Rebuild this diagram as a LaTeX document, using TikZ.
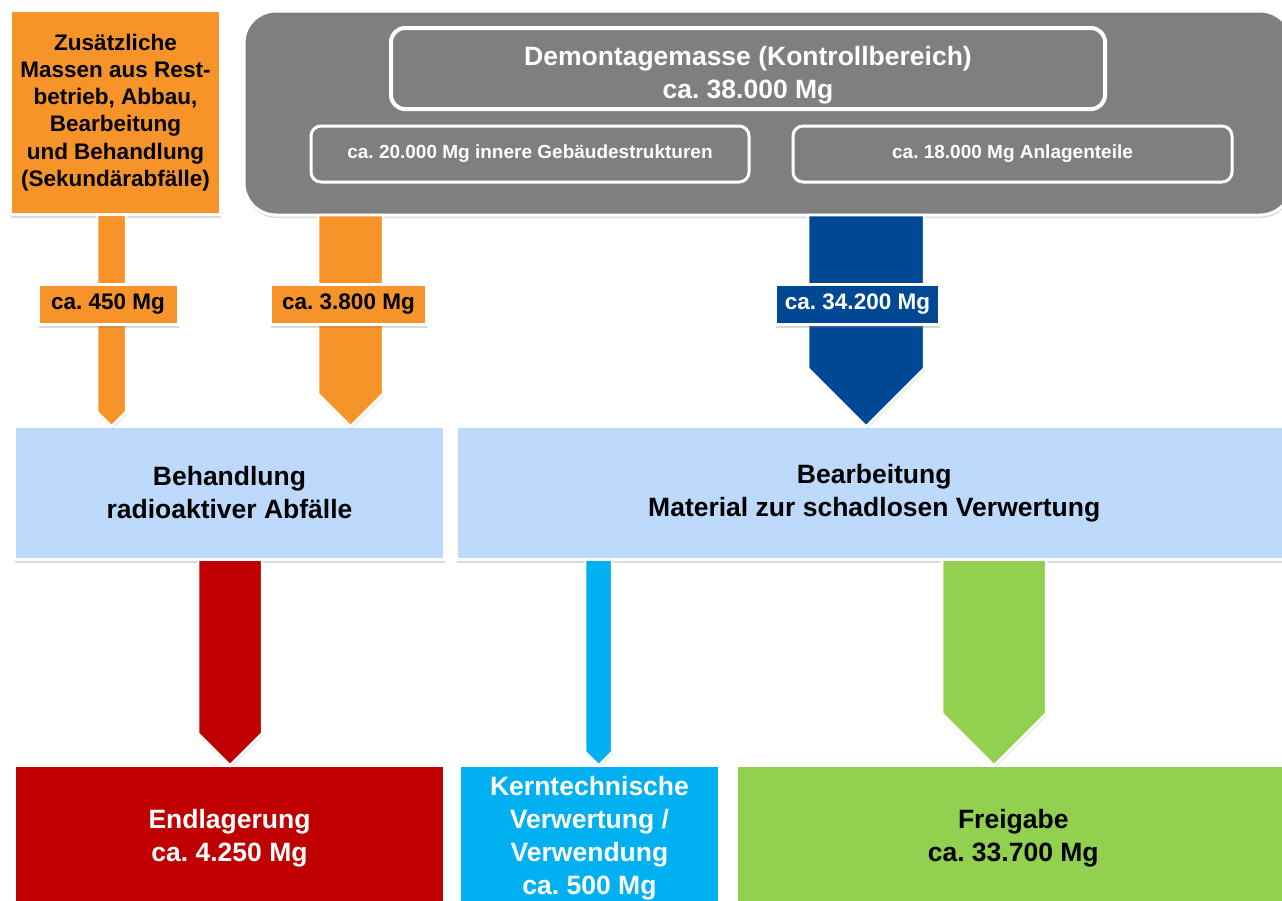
\documentclass[tikz,border=0pt]{standalone}
\usepackage{fontspec}
\setmainfont{Liberation Sans}
\usetikzlibrary{calc,shadows}
\frenchspacing
\definecolor{massorange}{RGB}{247,148,41}
\definecolor{massblue}{RGB}{0,72,148}
\definecolor{massgray}{RGB}{127,127,127}
\definecolor{proclight}{RGB}{189,217,251}
\definecolor{endred}{RGB}{192,0,0}
\definecolor{kerncyan}{RGB}{0,176,240}
\definecolor{freigreen}{RGB}{146,208,80}
\newcommand\flowarrow[5]{%
  \draw[flow, fill=#1] ({#2-#3},0 |- #4.south)
    -- ($({#2-#3},0 |- #5.north)+(0,-#3)$)
    -- (#2,0 |- #5.north)
    -- ($({#2+#3},0 |- #5.north)+(0,-#3)$)
    -- ({#2+#3},0 |- #4.south) -- cycle;}

\begin{document}
\begin{tikzpicture}
  [
    x=1pt, y=-1pt,
    block/.style =
      {draw=white, line width=3pt, rectangle, align=center, inner sep=0pt, outer sep=0pt,
       drop shadow={opacity=.3, shadow xshift=0.5pt, shadow yshift=-3pt}},
    big/.style =
      {font=\bfseries\fontsize{26.5}{33}\selectfont},
    small/.style =
      {font=\bfseries\fontsize{19}{23}\selectfont, text=white},
    tag/.style =
      {block, font=\bfseries\fontsize{22.5}{26}\selectfont, minimum height=40pt},
    flow/.style =
      {draw=white, line width=2.5pt, line join=miter,
       drop shadow={opacity=.25, shadow xshift=0.5pt, shadow yshift=-2.5pt}}
  ]
  \useasboundingbox (0,0) rectangle (1282,900);
  \clip (0,0) rectangle (1282,900);

  \node [block, fill=massorange, minimum width=210pt, minimum height=204pt,
         font=\bfseries\fontsize{22.5}{27.3}\selectfont] at (115.5,112.5) (zus)
        {Zusätzliche\\Massen aus Rest-\\betrieb, Abbau,\\Bearbeitung\\und Behandlung\\(Sekundärabfälle)};
  \node [block, fill=massgray, rounded corners=32pt, minimum width=1048pt, minimum height=204pt]
        at (768,113) (demo) {};
  \node [block, fill=massgray, rounded corners=14pt, line width=4pt, minimum width=714pt,
         minimum height=81pt, big, text=white] at (748,68.5) (title)
        {\rule{0pt}{32pt}Demontagemasse (Kontrollbereich)\\ca. 38.000 Mg};
  \node [block, fill=massgray, rounded corners=10pt, minimum width=438pt, minimum height=56pt, small]
        at (530,154) (innen) {ca. 20.000 Mg innere Gebäudestrukturen};
  \node [block, fill=massgray, rounded corners=10pt, minimum width=439pt, minimum height=56pt, small]
        at (1012.5,154) (anlage) {ca. 18.000 Mg Anlagenteile};

  \node [block, fill=proclight, minimum width=430pt, minimum height=133pt, big]
        at (229.5,493) (beh) {Behandlung\\radioaktiver Abfälle};
  \node [block, fill=proclight, minimum width=835.5pt, minimum height=133pt, big]
        at (874.25,493) (bea) {Bearbeitung\\Material zur schadlosen Verwertung};

  \node [block, fill=endred, minimum width=430pt, minimum height=144.5pt, big, text=white]
        at (229.5,837.75) (end) {Endlagerung\\ca. 4.250 Mg};
  \node [block, fill=kerncyan, minimum width=260pt, minimum height=144.5pt, big, text=white]
        at (589.5,837.75) (kern) {Kerntechnische\\Verwertung /\\Verwendung\\ca. 500 Mg};
  \node [block, fill=freigreen, minimum width=553.5pt, minimum height=144.5pt, big]
        at (1013.25,837.75) (frei) {Freigabe\\ca. 33.700 Mg};

  \flowarrow{massorange}{111.5}{14.5}{zus}{beh}
  \flowarrow{massorange}{350.5}{32.5}{demo}{beh}
  \flowarrow{massblue}{866}{58}{demo}{bea}
  \flowarrow{endred}{230}{32}{beh}{end}
  \flowarrow{kerncyan}{598.5}{13.5}{bea}{kern}
  \flowarrow{freigreen}{994}{52}{bea}{frei}

  \node [tag, fill=massorange, minimum width=140pt] at (108,304.5) (m450) {ca. 450 Mg};
  \node [tag, fill=massorange, minimum width=156pt] at (348.5,304.5) (m3800) {ca. 3.800 Mg};
  \node [tag, fill=massblue, minimum width=164pt, text=white] at (857.5,304.5) (m34200) {ca. 34.200 Mg};

\end{tikzpicture}
\end{document}
